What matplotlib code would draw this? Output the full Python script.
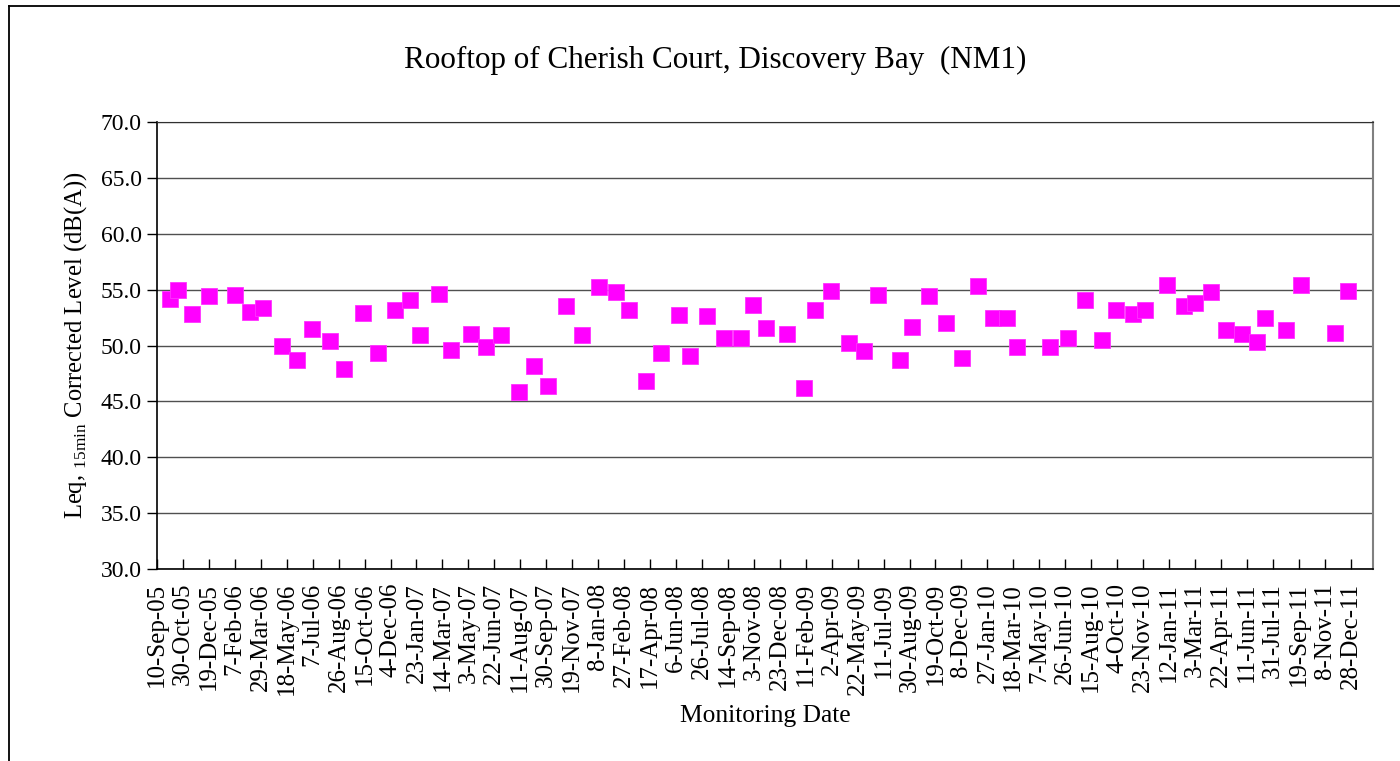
import pandas as pd
import matplotlib
matplotlib.use('Agg')
import matplotlib.pyplot as plt
from matplotlib.lines import Line2D

# monitoring dates and corrected levels
dates = ['2005-10-06', '2005-10-20', '2005-11-17', '2005-12-20', '2006-02-07',
         '2006-03-09', '2006-04-03', '2006-05-08', '2006-06-07', '2006-07-06',
         '2006-08-09', '2006-09-05', '2006-10-11', '2006-11-09', '2006-12-12',
         '2007-01-11', '2007-01-29', '2007-03-08', '2007-03-31', '2007-05-08',
         '2007-06-06', '2007-07-05', '2007-08-08', '2007-09-07', '2007-10-04',
         '2007-11-08', '2007-12-07', '2008-01-10', '2008-02-12', '2008-03-07',
         '2008-04-09', '2008-05-08', '2008-06-12', '2008-07-03', '2008-08-05',
         '2008-09-06', '2008-10-10', '2008-11-01', '2008-11-26', '2009-01-06',
         '2009-02-07', '2009-03-01', '2009-04-01', '2009-05-06', '2009-06-03',
         '2009-07-01', '2009-08-11', '2009-09-03', '2009-10-07', '2009-11-08',
         '2009-12-10', '2010-01-09', '2010-02-07', '2010-03-06', '2010-03-25',
         '2010-05-27', '2010-07-01', '2010-08-04', '2010-09-05', '2010-10-01',
         '2010-11-04', '2010-11-26', '2011-01-09', '2011-02-10', '2011-03-03',
         '2011-04-03', '2011-05-01', '2011-06-02', '2011-06-30', '2011-07-15',
         '2011-08-26', '2011-09-23', '2011-11-27', '2011-12-23']
levels = [54.2, 55.0, 52.8, 54.4, 54.5, 53.0, 53.4, 50.0, 48.7, 51.5,
          50.4, 47.9, 52.9, 49.3, 53.2, 54.1, 50.9, 54.6, 49.6, 51.0,
          49.9, 50.9, 45.8, 48.2, 46.4, 53.5, 50.9, 55.2, 54.8, 53.2,
          46.8, 49.3, 52.7, 49.1, 52.6, 50.7, 50.7, 53.6, 51.6, 51.0,
          46.2, 53.2, 54.9, 50.2, 49.5, 54.5, 48.7, 51.7, 54.4, 52.0,
          48.9, 55.3, 52.5, 52.5, 49.9, 49.9, 50.7, 54.1, 50.5, 53.2,
          52.8, 53.2, 55.4, 53.5, 53.8, 54.8, 51.4, 51.0, 50.3, 52.5,
          51.4, 55.4, 51.1, 54.9]

x_start = pd.Timestamp('2005-09-10')
x_end = x_start + pd.Timedelta(days=2343)
tick_dates = pd.date_range(x_start, periods=47, freq='50D')
y_ticks = [30, 35, 40, 45, 50, 55, 60, 65, 70]

plt.rcParams['font.family'] = ['Liberation Serif', 'DejaVu Serif']
plt.rcParams['mathtext.fontset'] = 'custom'
plt.rcParams['mathtext.rm'] = 'Liberation Serif'

fig = plt.figure(figsize=(14, 7.61), dpi=100)
ax = fig.add_axes([157 / 1400, 1 - 569 / 761, (1373 - 157) / 1400, 447 / 761])

ax.plot(pd.to_datetime(dates), levels, linestyle='none', marker='s',
        markersize=12, color='#FF00FF', markeredgecolor='#FF33FF',
        markeredgewidth=0.6, zorder=3)

ax.set_xlim(x_start, x_end)
ax.set_ylim(30, 70)
ax.set_yticks(y_ticks)
ax.set_yticklabels(['%.1f' % v for v in y_ticks], fontsize=17)
ax.set_xticks(tick_dates)
ax.set_xticklabels([d.strftime('%-d-%b-%y') for d in tick_dates],
                   rotation=90, fontsize=18)
ax.tick_params(axis='x', direction='in', length=7, width=1, pad=10)
ax.tick_params(axis='y', direction='out', length=7, width=1, pad=4)

ax.yaxis.grid(True, color='#505050', linewidth=1)
ax.set_axisbelow(True)
for s in ['left', 'bottom']:
    ax.spines[s].set_color('black')
    ax.spines[s].set_linewidth(1.2)
ax.spines['top'].set_color('#303030')
ax.spines['right'].set_color('#808080')
ax.spines['right'].set_linewidth(1.5)

ax.set_ylabel(r'Leq, $_{\mathregular{15min}}$ Corrected Level (dB(A))',
              fontsize=17.7, labelpad=8)
ax.set_xlabel('Monitoring Date', fontsize=18.4, labelpad=7)
fig.text(715 / 1400, 1 - 60 / 761, 'Rooftop of Cherish Court, Discovery Bay  (NM1)',
         ha='center', va='center', fontsize=22.4)

# outer chart-area border (left and top edges visible)
fig.add_artist(Line2D([9 / 1400, 9 / 1400], [0, 1 - 6 / 761],
                      transform=fig.transFigure, color='black', linewidth=1.3))
fig.add_artist(Line2D([9 / 1400, 1], [1 - 6 / 761, 1 - 6 / 761],
                      transform=fig.transFigure, color='black', linewidth=1.3))

fig.savefig('out.png', dpi=100)
